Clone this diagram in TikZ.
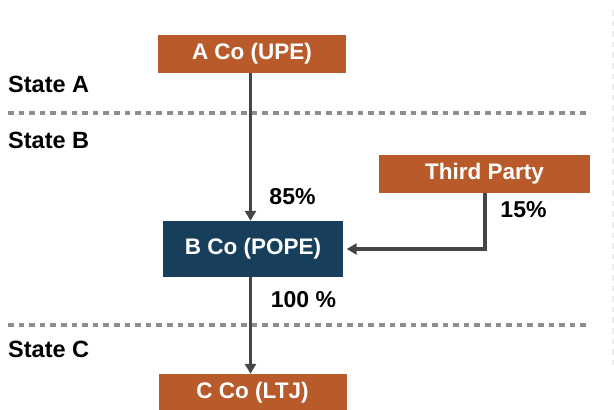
\documentclass[tikz,border=0pt]{standalone}
\usepackage{fontspec}
\setmainfont{Liberation Sans}
\usetikzlibrary{arrows.meta}
\definecolor{rust}{HTML}{B85A2A}
\definecolor{navy}{HTML}{173F5C}
\definecolor{conn}{HTML}{454545}
\definecolor{sep}{HTML}{8E8E8E}
\begin{document}
\begin{tikzpicture}[x=1pt,y=-1pt,
  entity/.style={fill=rust, text=white, font=\fontsize{22.5}{26}\selectfont\bfseries,
    inner sep=0pt, minimum height=38pt},
  pct/.style={text=black, font=\fontsize{23}{27}\selectfont\bfseries, inner sep=0pt},
  statelbl/.style={text=black, font=\fontsize{23.5}{27}\selectfont\bfseries, inner sep=0pt, anchor=west},
  link/.style={draw=conn, line width=3.6pt, -{Triangle[width=11pt,length=10pt]}},
  sepline/.style={draw=sep, line width=3.3pt, dash pattern=on 5.5pt off 5.1pt}]
\useasboundingbox (0,0) rectangle (614,410);
% separators
\draw[sepline] (8,113) -- (590,113);
\draw[sepline] (8,325) -- (590,325);
\draw[draw=gray!14, line width=1.5pt, dash pattern=on 5.5pt off 5.1pt] (613,10) -- (613,366);
% state labels
\node[statelbl] (sa) at (8,84) {State A};
\node[statelbl] (sb) at (8,140) {State B};
\node[statelbl] (sc) at (8,349) {State C};
% entities
\node[entity, minimum width=188pt] (a) at (252,54) {A Co (UPE)};
\node[entity, fill=navy, minimum width=180pt, minimum height=56pt] (b) at (253,249) {B Co (POPE)};
\node[entity, minimum width=211pt] (t) at (484.5,174) {Third Party};
\node[entity, minimum width=188pt] (c) at (252.5,393) {C Co (LTJ)};
% connector columns
\coordinate (x0) at (250.5,0);
\coordinate (tx) at (485,0);
\draw[link] (a.south -| x0) -- (b.north -| x0);
\draw[link] (b.south -| x0) -- (c.north -| x0);
\draw[link, shorten >=3.5pt] (t.south -| tx) |- (b.east);
% percentages
\node[pct] (p85) at (292.5,197) {85\%};
\node[pct] (p15) at (523.5,209.5) {15\%};
\node[pct] (p100) at (303.5,299.5) {100 \%};
\end{tikzpicture}
\end{document}
